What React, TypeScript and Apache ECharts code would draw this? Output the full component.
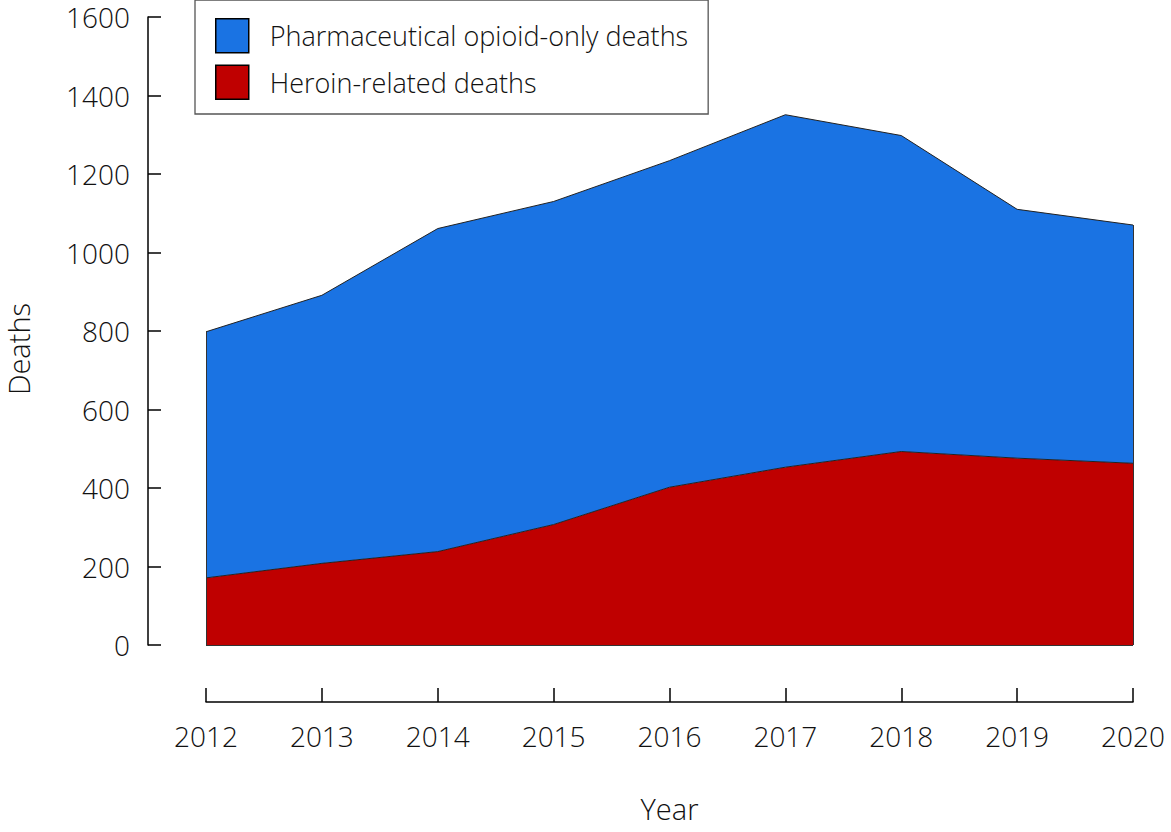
import React, { useEffect, useRef } from 'react';
import * as echarts from 'echarts';

const years = ['2012', '2013', '2014', '2015', '2016', '2017', '2018', '2019', '2020'];
const heroinDeaths = [171, 208, 238, 307, 402, 453, 493, 476, 463];
const pharmaOnlyDeaths = [627, 683, 823, 823, 832, 898, 805, 634, 607];
const yTicks = { min: 0, max: 1600, interval: 200 };

const FONT = '"Open Sans", sans-serif';

const App: React.FC = () => {
  const chartRef = useRef<HTMLDivElement | null>(null);

  useEffect(() => {
    if (!chartRef.current) return;
    const chart = echarts.init(chartRef.current, undefined, { renderer: 'svg' });

    const totals = years.map((_, i) => heroinDeaths[i] + pharmaOnlyDeaths[i]);
    const last = years.length - 1;

    const option: any = {
      animation: false,
      textStyle: { fontFamily: FONT },
      grid: { left: 206, right: 38, top: 17, bottom: 187, outerBoundsMode: 'none', containLabel: false },
      legend: {
        data: ['Pharmaceutical opioid-only deaths', 'Heroin-related deaths'],
        orient: 'vertical',
        left: 195,
        top: 0,
        padding: [18, 20, 14, 20],
        itemWidth: 33,
        itemHeight: 34,
        itemGap: 11,
        icon: 'rect',
        borderColor: '#555',
        borderWidth: 1.3,
        itemStyle: { borderColor: '#000', borderWidth: 1.5 },
        textStyle: {
          fontSize: 27,
          fontWeight: 300,
          color: '#111',
          padding: [0, 0, 0, 16],
          fontFamily: FONT,
        },
      },
      xAxis: {
        type: 'category',
        data: years,
        boundaryGap: false,
        offset: 57,
        name: 'Year',
        nameLocation: 'middle',
        nameGap: 92,
        nameTextStyle: { fontSize: 29, fontWeight: 300, color: '#111', fontFamily: FONT },
        axisLine: { show: true, onZero: false, lineStyle: { color: '#000', width: 1.5 } },
        axisTick: { show: true, inside: true, length: 14, lineStyle: { color: '#000', width: 1.5 } },
        axisLabel: { fontSize: 28, fontWeight: 300, color: '#111', margin: 20, fontFamily: FONT },
        splitLine: { show: false },
      },
      yAxis: {
        type: 'value',
        min: yTicks.min,
        max: yTicks.max,
        interval: yTicks.interval,
        offset: 58,
        name: 'Deaths',
        nameLocation: 'middle',
        nameGap: 115,
        nameTextStyle: {
          fontSize: 29,
          fontWeight: 300,
          color: '#111',
          fontFamily: FONT,
          lineHeight: 30,
          padding: [0, 36, 0, 0],
        },
        axisLine: { show: true, lineStyle: { color: '#000', width: 1.5 } },
        axisTick: { show: true, inside: true, length: 13, lineStyle: { color: '#000', width: 1.5 } },
        axisLabel: {
          fontSize: 28,
          fontWeight: 300,
          lineHeight: 28,
          color: '#111',
          margin: 18,
          fontFamily: FONT,
          formatter: (v: number) => String(v),
        },
        splitLine: { show: false },
      },
      series: [
        {
          name: 'Heroin-related deaths',
          type: 'line',
          stack: 'deaths',
          data: heroinDeaths,
          color: '#BF0000',
          showSymbol: false,
          lineStyle: { color: '#222', width: 1 },
          areaStyle: { color: '#BF0000', opacity: 1 },
          markLine: {
            silent: true,
            symbol: 'none',
            label: { show: false },
            lineStyle: { color: '#333', width: 1, type: 'solid' },
            data: [
              [{ coord: [years[0], 0] }, { coord: [years[last], 0] }],
              [{ coord: [years[0], 0] }, { coord: [years[0], totals[0]] }],
              [{ coord: [years[last], 0] }, { coord: [years[last], totals[last]] }],
            ],
          },
        },
        {
          name: 'Pharmaceutical opioid-only deaths',
          type: 'line',
          stack: 'deaths',
          data: pharmaOnlyDeaths,
          color: '#1A73E3',
          showSymbol: false,
          lineStyle: { color: '#222', width: 1 },
          areaStyle: { color: '#1A73E3', opacity: 1 },
        },
      ],
    };

    chart.setOption(option);

    return () => {
      chart.dispose();
    };
  }, []);

  return (
    <div
      ref={chartRef}
      style={{ position: 'absolute', left: 0, top: 0, width: '1171px', height: '832px' }}
    />
  );
};

export default App;
